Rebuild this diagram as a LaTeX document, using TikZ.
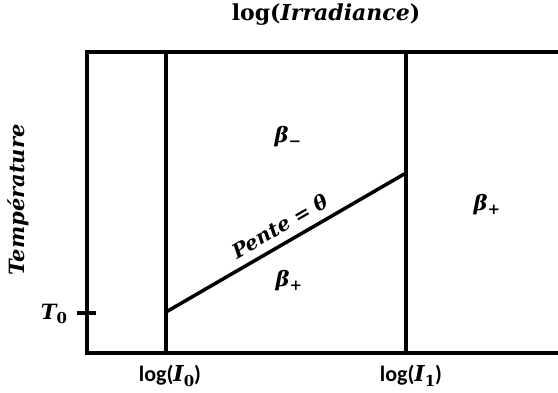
\documentclass[tikz,border=0pt]{standalone}
\usepackage{fontspec}
\setmainfont{DejaVu Serif}
\newfontfamily\labsans{Carlito}
\tikzset{
  frame/.style={line width=3.5pt, line cap=rect},
  lab/.style={inner sep=0pt, font=\fontsize{21}{24}\selectfont\bfseries},
  sanslab/.style={inner sep=0pt, font=\fontsize{22}{25}\selectfont\bfseries},
}
\newcommand{\bi}[1]{{\bfseries\itshape #1}}
\newcommand{\sbm}{\raisebox{-0.35ex}{\fontsize{15}{17}\selectfont −}}
\newcommand{\sbp}{\raisebox{-0.35ex}{\fontsize{15}{17}\selectfont +}}
\newcommand{\sbn}[1]{\raisebox{-0.4ex}{\fontsize{15}{17}\selectfont #1}}
\begin{document}
\begin{tikzpicture}[x=1pt,y=-1pt]
\useasboundingbox (0,0) rectangle (558,393);
\coordinate (tl) at (87,52);
\coordinate (tr) at (562,52);
\coordinate (bl) at (87,353);
\coordinate (br) at (562,353);
\coordinate (a0) at (166,52);
\coordinate (b0) at (166,353);
\coordinate (a1) at (406,52);
\coordinate (b1) at (406,353);
\coordinate (s0) at (166,312);
\coordinate (s1) at (406,173);
\coordinate (k0) at (77,313);
\coordinate (k1) at (96,313);
\draw[frame] (tr) -- (tl) -- (bl) -- (br);
\draw[frame] (a0) -- (b0);
\draw[frame] (a1) -- (b1);
\draw[line width=3.5pt] (s0) -- (s1);
\draw[line width=3.5pt] (k0) -- (k1);
\node[lab, font=\fontsize{22}{25}\selectfont\bfseries] (title) at (326,15) {log(\bi{Irradiance})};
\node[lab] (temp) at (18,200) [rotate=90] {\bi{Température}};
\node[lab] (t0) at (54,314) {\bi{T}\sbn{0}};
\node[lab] (bm) at (288,137) {\bi{β}\sbm};
\node[lab] (bp) at (289,281) {\bi{β}\sbp};
\node[lab] (bpr) at (487,205) {\bi{β}\sbp};
\node[lab, font=\fontsize{20}{23}\selectfont\bfseries, rotate=30] (pente) at (280,226) {\bi{Pente} = \bi{θ}};
\node[sanslab] (li0) at (170,376) {{\labsans log(}\bi{I}\sbn{0}{\labsans )}};
\node[sanslab] (li1) at (411,376) {{\labsans log(}\bi{I}\sbn{1}{\labsans )}};
\end{tikzpicture}
\end{document}
